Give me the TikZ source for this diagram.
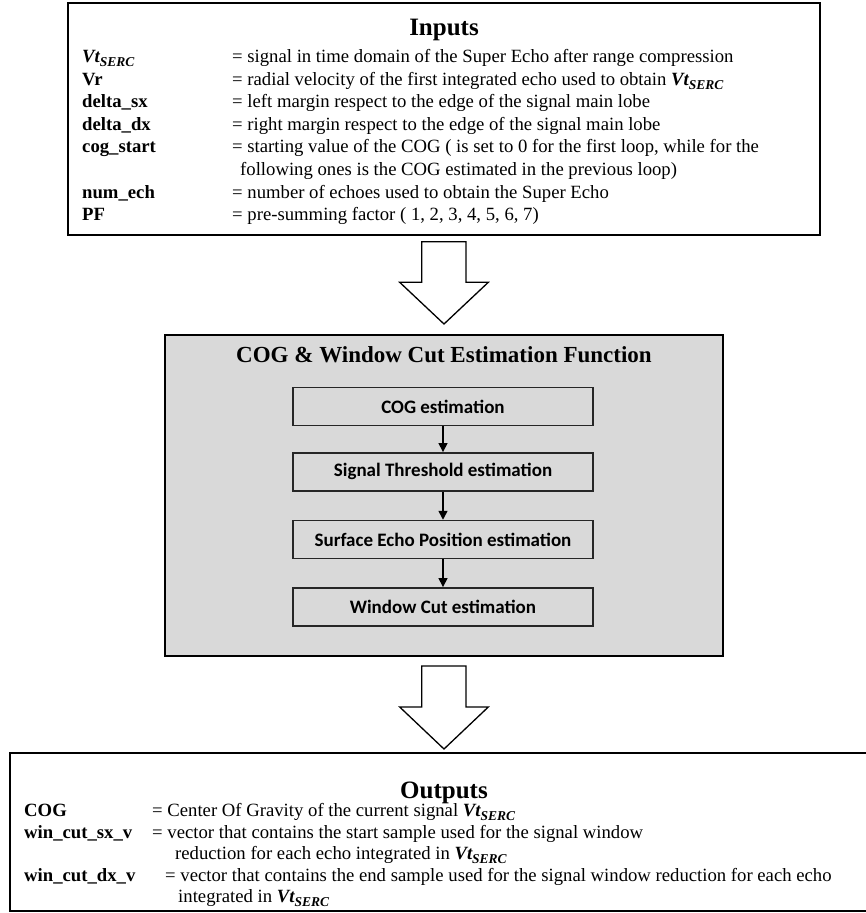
\documentclass[tikz,border=0pt]{standalone}
\usepackage{fontspec}
\setmainfont{Liberation Serif}
\newfontfamily\calfont{Carlito}
\usetikzlibrary{arrows.meta}
\definecolor{boxgray}{HTML}{D9D9D9}
\newcommand{\VtS}{{\bfseries\itshape Vt\raisebox{-0.22em}{\fontsize{13.5}{14}\selectfont SERC}}}
\tikzset{
  body/.style={anchor=base west, inner sep=0pt, font=\fontsize{18.7}{22.6}\selectfont},
  lbl/.style={anchor=base west, inner sep=0pt, font=\fontsize{18.7}{22.6}\selectfont\bfseries},
  frame/.style={draw=black, line width=2pt, inner sep=0pt},
  stepbox/.style={draw=black!85, line width=1.5pt, fill=boxgray, minimum width=300pt,
     minimum height=38pt, inner sep=0pt, font=\calfont\bfseries\fontsize{19}{22}\selectfont},
  flow/.style={-{Triangle[width=9pt,length=9pt]}, line width=1.5pt},
  blockarrow/.style={draw=black, line width=1.3pt, fill=white, line join=miter},
  bigtitle/.style={anchor=base, inner sep=0pt, font=\fontsize{25}{28}\selectfont\bfseries}
}
\begin{document}
\begin{tikzpicture}[x=1pt,y=-1pt]
\useasboundingbox (0,0) rectangle (866,913);
\fill[white] (0,0) rectangle (866,913);

% ---------------- Inputs ----------------
\node[frame, minimum width=752pt, minimum height=232pt] (inputs) at (444,119) {};
\node[bigtitle] (intitle) at (444,35) {Inputs};
\node[lbl]  (i1l) at (82,62.5)  {\VtS};
\node[body] (i1t) at (232,62.5) {= signal in time domain of the Super Echo after range compression};
\node[lbl]  (i2l) at (82,85.1)  {Vr};
\node[body] (i2t) at (232,85.1) {= radial velocity of the first integrated echo used to obtain \VtS};
\node[lbl]  (i3l) at (82,107.7) {delta\_sx};
\node[body] (i3t) at (232,107.7) {= left margin respect to the edge of the signal main lobe};
\node[lbl]  (i4l) at (82,130.3) {delta\_dx};
\node[body] (i4t) at (232,130.3) {= right margin respect to the edge of the signal main lobe};
\node[lbl]  (i5l) at (82,152.9) {cog\_start};
\node[body] (i5t) at (232,152.9) {= starting value of the COG ( is set to 0 for the first loop, while for the};
\node[body] (i6t) at (240,175.5) {following ones is the COG estimated in the previous loop)};
\node[lbl]  (i7l) at (82,198.1) {num\_ech};
\node[body] (i7t) at (232,198.1) {= number of echoes used to obtain the Super Echo};
\node[lbl]  (i8l) at (82,220.7) {PF};
\node[body] (i8t) at (232,220.7) {= pre-summing factor ( 1, 2, 3, 4, 5, 6, 7)};

% ---------------- Arrow 1 ----------------
\draw[blockarrow] (421.7,241.7) -- (466,241.7) -- (466,282.3) -- (488.3,282.3)
   -- (444,324) -- (399.7,282.3) -- (421.7,282.3) -- cycle;

% ---------------- Function box ----------------
\node[frame, fill=boxgray, minimum width=558pt, minimum height=321pt] (func) at (444,495.5) {};
\node[anchor=base, inner sep=0pt, font=\fontsize{23}{26}\selectfont\bfseries] (functitle) at (444,362.5)
   {COG \& Window Cut Estimation Function};
\node[stepbox] (cog) at (443,406.7) {COG estimation};
\node[stepbox] (thr) at (443,471.8) {Signal Threshold estimation};
\node[stepbox] (sep) at (443,539.5) {Surface Echo Position estimation};
\node[stepbox] (win) at (443,606.8) {Window Cut estimation};
\draw[flow] (cog.south) -- (thr.north);
\draw[flow] (thr.south) -- (sep.north);
\draw[flow] (sep.south) -- (win.north);

% ---------------- Arrow 2 ----------------
\draw[blockarrow] (421.7,666) -- (466,666) -- (466,707) -- (488.3,707)
   -- (444,749) -- (399.7,707) -- (421.7,707) -- cycle;

% ---------------- Outputs ----------------
\node[frame, minimum width=868pt, minimum height=158pt] (outputs) at (444,832) {};
\node[bigtitle] (outtitle) at (444,798) {Outputs};
\node[lbl]  (o1l) at (24,816.5) {COG};
\node[body] (o1t) at (152,816.5) {= Center Of Gravity of the current signal \VtS};
\node[lbl]  (o2l) at (24,838) {win\_cut\_sx\_v};
\node[body] (o2t) at (152,838) {= vector that contains the start sample used for the signal window};
\node[body] (o3t) at (175,859.5) {reduction for each echo integrated in \VtS};
\node[lbl]  (o4l) at (24,881) {win\_cut\_dx\_v};
\node[body] (o4t) at (165,881) {= vector that contains the end sample used for the signal window reduction for each echo};
\node[body] (o5t) at (178,902.5) {integrated in \VtS};
\end{tikzpicture}
\end{document}
